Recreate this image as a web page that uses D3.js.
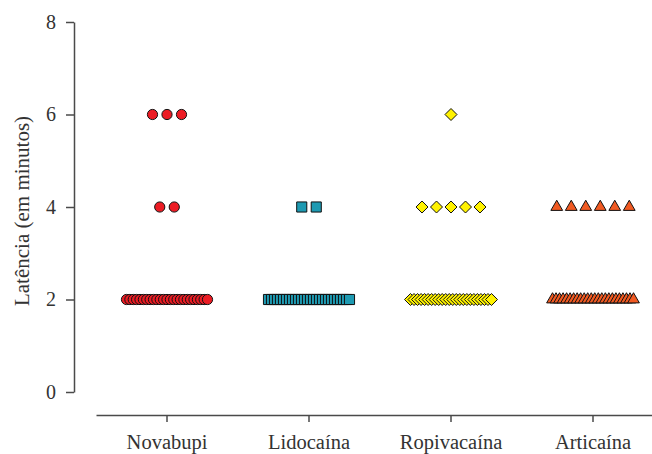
<!DOCTYPE html>
<html>
<head>
<meta charset="utf-8">
<script src="https://cdn.jsdelivr.net/npm/d3@7"></script>
<style>
  body { margin: 0; background: #fff; }
  svg { display: block; }
  text { font-family: "Liberation Serif", "Times New Roman", serif; fill: #333; }
</style>
</head>
<body>
<svg id="chart" width="652" height="454"></svg>
<script>
// ---- data ----
const categories = ["Novabupi", "Lidocaína", "Ropivacaína", "Articaína"];
const novabupi = [6, 6, 6, 4, 4,
  2, 2, 2, 2, 2, 2, 2, 2, 2, 2, 2, 2, 2, 2, 2, 2, 2, 2, 2, 2, 2, 2, 2, 2, 2];
const lidocaina = [4, 4,
  2, 2, 2, 2, 2, 2, 2, 2, 2, 2, 2, 2, 2, 2, 2, 2, 2, 2, 2, 2, 2, 2, 2, 2, 2, 2, 2, 2];
const ropivacaina = [6, 4, 4, 4, 4, 4,
  2, 2, 2, 2, 2, 2, 2, 2, 2, 2, 2, 2, 2, 2, 2, 2, 2, 2, 2, 2, 2, 2, 2, 2];
const articaina = [4, 4, 4, 4, 4, 4,
  2, 2, 2, 2, 2, 2, 2, 2, 2, 2, 2, 2, 2, 2, 2, 2, 2, 2, 2, 2, 2, 2, 2, 2];
const yTicks = [0, 2, 4, 6, 8];
const yLabel = "Latência (em minutos)";

const seriesValues = [novabupi, lidocaina, ropivacaina, articaina];

// ---- layout / style ----
const svg = d3.select("#chart");
const x = d3.scaleBand().domain(categories).range([96, 664]).paddingInner(0).paddingOuter(0);
const y = d3.scaleLinear().domain([0, 8]).range([392, 22]);
const axisColor = "#4a4a4a";

const diamond = {
  draw(context, size) {
    const r = Math.sqrt(size / 2);
    context.moveTo(0, -r);
    context.lineTo(r, 0);
    context.lineTo(0, r);
    context.lineTo(-r, 0);
    context.closePath();
  }
};
const styles = [
  { type: d3.symbolCircle, size: 82, fill: "#ec1c24" },
  { type: d3.symbolSquare, size: 102, fill: "#1e9ab2" },
  { type: diamond, size: 72, fill: "#fff200" },
  { type: d3.symbolTriangle, size: 60, fill: "#f15a22" }
];

// y axis
const yAxis = svg.append("g")
  .attr("transform", "translate(74,0)")
  .call(d3.axisLeft(y).tickValues(yTicks).tickFormat(d3.format("d"))
        .tickSize(8).tickSizeOuter(0).tickPadding(10));
yAxis.select(".domain").attr("stroke", axisColor).attr("stroke-width", 1.5);
yAxis.selectAll(".tick line").attr("stroke", axisColor).attr("stroke-width", 1.5);
yAxis.selectAll(".tick text").attr("font-size", 20).attr("fill", "#333")
  .attr("font-family", "'Liberation Serif', serif");

// x axis
const xAxis = svg.append("g")
  .attr("transform", "translate(0,415)")
  .call(d3.axisBottom(x).tickSize(7).tickSizeOuter(0).tickPadding(12));
xAxis.select(".domain").attr("stroke", axisColor).attr("stroke-width", 1.5);
xAxis.selectAll(".tick line").attr("stroke", axisColor).attr("stroke-width", 1.5);
xAxis.selectAll(".tick text").attr("font-size", 20.5).attr("fill", "#333")
  .attr("font-family", "'Liberation Serif', serif");

// y label
svg.append("text")
  .attr("transform", `translate(29,${y(4) + 4}) rotate(-90)`)
  .attr("text-anchor", "middle")
  .attr("font-size", 21)
  .text(yLabel);

// points: each value row spread horizontally around the category centre
const points = [];
seriesValues.forEach((vals, gi) => {
  const groups = d3.group(vals, v => v);
  const cx = x(categories[gi]) + x.bandwidth() / 2;
  groups.forEach((arr, v) => {
    const n = arr.length;
    const step = n <= 6 ? 14.5 : 81 / (n - 1);
    arr.forEach((_, i) => {
      points.push({ g: gi, v, px: cx + (i - (n - 1) / 2) * step });
    });
  });
});

svg.append("g").selectAll("path")
  .data(points)
  .join("path")
  .attr("transform", d => `translate(${d.px},${y(d.v)})`)
  .attr("d", d => d3.symbol().type(styles[d.g].type).size(styles[d.g].size)())
  .attr("fill", d => styles[d.g].fill)
  .attr("stroke", "#111")
  .attr("stroke-width", 1);
</script>
</body>
</html>
